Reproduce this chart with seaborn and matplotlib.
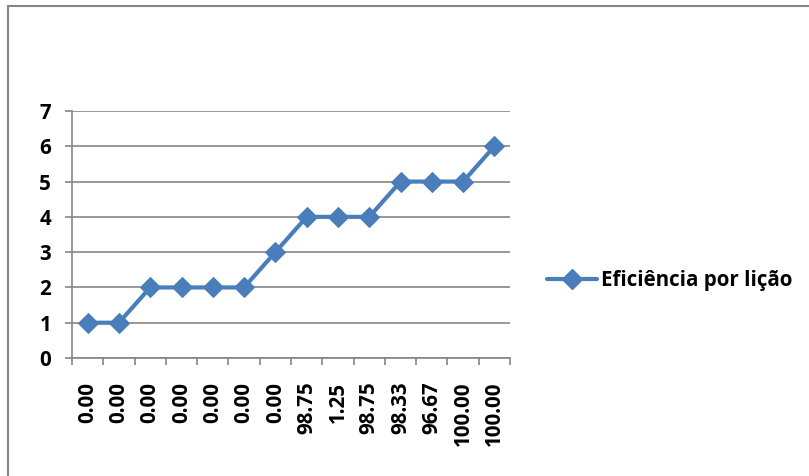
import matplotlib
matplotlib.use("Agg")
import matplotlib.pyplot as plt
from matplotlib.lines import Line2D
import numpy as np
import pandas as pd
import seaborn as sns

# Lesson labels (efficiency percentages) and cumulative lesson counts
categories = ["0.00", "0.00", "0.00", "0.00", "0.00", "0.00", "0.00",
              "98.75", "1.25", "98.75", "98.33", "96.67", "100.00", "100.00"]
values = [1, 1, 2, 2, 2, 2, 3, 4, 4, 4, 5, 5, 5, 6]
series_name = "Eficiência por lição"

sns.set_theme(style="white")
plt.rcParams["font.family"] = ["Open Sans", "DejaVu Sans"]
plt.rcParams["font.weight"] = "bold"
plt.rcParams["text.color"] = "black"
plt.rcParams["xtick.color"] = "black"
plt.rcParams["ytick.color"] = "black"

df = pd.DataFrame({"pos": np.arange(len(values)), "value": values})

line_color = "#4A7EBB"
grid_color = "#868686"
fsize = 14.8

fig = plt.figure(figsize=(8.09, 4.76), dpi=100)
ax = fig.add_axes([0.089, 0.2479, 0.5415, 0.5189])

sns.lineplot(data=df, x="pos", y="value", ax=ax, color=line_color,
             linewidth=3.0, marker="D", markersize=10,
             markeredgecolor=line_color, markerfacecolor=line_color)

n = len(values)
ax.set_xlim(-0.5, n - 0.5)
ax.set_ylim(0, 7)
ax.set_yticks(range(0, 8))
ax.set_yticklabels([str(v) for v in range(0, 8)])
ax.set_xticks(np.arange(n))
ax.set_xticklabels(categories, rotation=90, va="top", ha="center")
ax.set_xticks(np.arange(-0.5, n, 1.0), minor=True)

ax.set_xlabel("")
ax.set_ylabel("")

ax.yaxis.grid(True, color=grid_color, linewidth=1.2)
ax.set_axisbelow(True)

for side in ("top", "right"):
    ax.spines[side].set_visible(False)
for side in ("left", "bottom"):
    ax.spines[side].set_color(grid_color)
    ax.spines[side].set_linewidth(1.2)

ax.tick_params(axis="y", which="major", left=True, length=5, width=1.2,
               color=grid_color, pad=10, labelsize=fsize, labelcolor="black")
ax.tick_params(axis="x", which="major", bottom=True, length=0, pad=17,
               labelsize=fsize, labelcolor="black")
ax.tick_params(axis="x", which="minor", bottom=True, length=5, width=1.2,
               color=grid_color)
for lab in ax.get_xticklabels() + ax.get_yticklabels():
    lab.set_fontweight("bold")

handle = Line2D([], [], color=line_color, linewidth=3.0, marker="D",
                markersize=10, markerfacecolor=line_color,
                markeredgecolor=line_color)
leg = fig.legend([handle], [series_name], loc="center left",
                 bbox_to_anchor=(0.653, 0.41), frameon=False,
                 prop={"weight": "bold", "size": fsize},
                 handlelength=2.45, handletextpad=0.2)
for t in leg.get_texts():
    t.set_color("black")

# Chart-area border along the top and left edges
fig.add_artist(Line2D([0.0105, 0.0105], [0.0, 0.988], transform=fig.transFigure,
                      color=grid_color, linewidth=1.5))
fig.add_artist(Line2D([0.0105, 1.0], [0.988, 0.988], transform=fig.transFigure,
                      color=grid_color, linewidth=1.5))

fig.savefig("out.png", dpi=100, facecolor="white")
